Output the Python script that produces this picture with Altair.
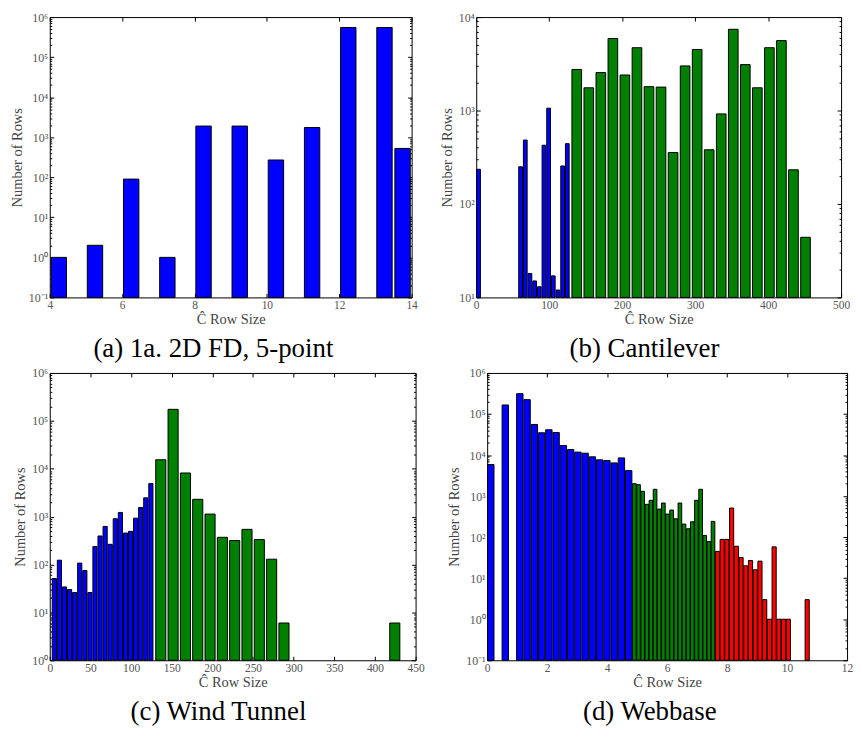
import altair as alt
import pandas as pd

BLUE, GREEN, RED = "#0000ff", "#008000", "#ff0000"

# ---------------- data (counts per histogram bin) ----------------
# (a) 1a. 2D FD, 5-point : one histogram of 20 bins
A_BIN_START, A_BIN_WIDTH = 4.0, 0.5
A_COUNTS = [1, 0, 2, 0, 90, 0, 1, 0, 1900, 0, 1900, 0, 270, 0, 1750, 0, 550000, 0, 550000, 525]

# (b) Cantilever
B_BLUE_START, B_BLUE_WIDTH = 0.0, 6.4
B_BLUE_COUNTS = [235, 0, 0, 0, 0, 0, 0, 0, 0, 250, 483, 18, 15, 13, 425, 1060, 17, 12, 255, 442]
B_GREEN_START, B_GREEN_WIDTH = 129.5, 16.5
B_GREEN_COUNTS = [2750, 1750, 2550, 5900, 2400, 4700, 1800, 1780, 355, 3000,
                  4500, 380, 920, 7400, 3100, 1750, 4700, 5600, 232, 44]

# (c) Wind Tunnel
C_BLUE_START, C_BLUE_WIDTH = 2.5, 6.25
C_BLUE_COUNTS = [51, 123, 34, 30, 26, 107, 75, 26, 237, 394,
                 625, 264, 904, 1222, 454, 492, 930, 1550, 2465, 4890]
C_GREEN_START, C_GREEN_WIDTH = 129.0, 15.15
C_GREEN_COUNTS = [15400, 174000, 8150, 2300, 1130, 370, 316, 542, 331, 129,
                  6, 0, 0, 0, 0, 0, 0, 0, 0, 6]

# (d) Webbase
D_BLUE_START, D_BLUE_WIDTH = 0.0, 0.242
D_BLUE_COUNTS = [5860, 0, 166000, 0, 313000, 224000, 55700, 34900, 41300, 35500,
                 17100, 13600, 11800, 11100, 9040, 7640, 7340, 6440, 8530, 4180]
D_GREEN_START, D_GREEN_WIDTH = 4.84, 0.138
D_GREEN_COUNTS = [2010, 1900, 1310, 630, 790, 1466, 483, 678, 365, 457,
                  280, 678, 208, 160, 237, 790, 1466, 110, 78, 242]
D_RED_START, D_RED_WIDTH = 7.6, 0.1575
D_RED_COUNTS = [45, 88, 88, 512, 60, 32, 20, 27, 16, 26,
                3, 1, 58, 1, 1, 1, 0, 0, 0, 3]

# tick values / labels
A_X_TICKS = [4, 6, 8, 10, 12, 14]
B_X_TICKS = [0, 100, 200, 300, 400, 500]
C_X_TICKS = [0, 50, 100, 150, 200, 250, 300, 350, 400, 450]
D_X_TICKS = [0, 2, 4, 6, 8, 10, 12]

SUP = {-1: "\u207b\u00b9", 0: "\u2070", 1: "\u00b9", 2: "\u00b2", 3: "\u00b3",
       4: "\u2074", 5: "\u2075", 6: "\u2076"}
A_Y_EXP = [-1, 0, 1, 2, 3, 4, 5, 6]
B_Y_EXP = [1, 2, 3, 4]
C_Y_EXP = [0, 1, 2, 3, 4, 5, 6]
D_Y_EXP = [-1, 0, 1, 2, 3, 4, 5, 6]

SERIF = "Liberation Serif"


def panel(series, rw, x_ticks, y_exp, caption, w, h):
    rows = []
    for color, start, width, counts in series:
        for i, c in enumerate(counts):
            if c > 0:
                left = start + (i + (1 - rw) / 2) * width
                rows.append({"x": left, "x2": left + rw * width, "n": c, "c": color})
    df = pd.DataFrame(rows)

    y_ticks = [10.0 ** e for e in y_exp]
    xdom = [x_ticks[0], x_ticks[-1]]
    ydom = [y_ticks[0], y_ticks[-1]]
    minor = [m * 10.0 ** k for k in range(y_exp[0], y_exp[-1]) for m in range(2, 10)]

    expr = ""
    for e in y_exp:
        expr += f"round(log(datum.value)/LN10) == {e} ? '10{SUP[e]}' : "
    expr += "''"

    xs = alt.Scale(domain=xdom, nice=False, zero=False)
    ys = alt.Scale(type="log", domain=ydom, nice=False)

    def enc(xaxis, yaxis):
        return dict(
            x=alt.X("x:Q", scale=xs, axis=xaxis),
            x2=alt.X2("x2:Q"),
            y=alt.Y("n:Q", scale=ys, axis=yaxis),
            y2=alt.Y2Datum(ydom[0]),
        )

    main_x = alt.Axis(orient="bottom", values=x_ticks, format="d", offset=-4, tickSize=4,
                      domain=False, grid=False, labelFlush=False, labelOverlap=False,
                      labelPadding=2, labelFontSize=11.5,
                      title="\u0108 Row Size", titlePadding=2)
    main_y = alt.Axis(orient="left", values=y_ticks, labelExpr=expr, offset=-4, tickSize=4,
                      domain=False, grid=False, labelFlush=False, labelOverlap=False,
                      labelPadding=2, labelFontSize=12,
                      title="Number of Rows", titlePadding=4)
    top_x = alt.Axis(orient="top", values=x_ticks, offset=-4, tickSize=4, labels=False,
                     domain=False, grid=False, title=None)
    right_y = alt.Axis(orient="right", values=y_ticks, offset=-4, tickSize=4, labels=False,
                       domain=False, grid=False, title=None)
    left_minor = alt.Axis(orient="left", values=minor, offset=-2, tickSize=2, labels=False,
                          domain=False, grid=False, title=None)
    right_minor = alt.Axis(orient="right", values=minor, offset=-2, tickSize=2, labels=False,
                           domain=False, grid=False, title=None)

    base = alt.Chart(df)
    bars = base.mark_bar(stroke="black", strokeWidth=1).encode(
        color=alt.Color("c:N", scale=None), **enc(main_x, main_y))
    g1 = base.mark_bar(opacity=0).encode(**enc(top_x, right_y))
    g2 = base.mark_bar(opacity=0).encode(**enc(None, left_minor))
    g3 = base.mark_bar(opacity=0).encode(**enc(None, right_minor))

    return alt.layer(bars, g1, g2, g3).resolve_axis(x="independent", y="independent").properties(
        width=w, height=h,
        title=alt.TitleParams(caption, orient="bottom", frame="bounds", anchor="middle",
                              offset=10, font=SERIF, fontSize=27, fontWeight="normal",
                              color="black"),
    )


pa = panel([(BLUE, A_BIN_START, A_BIN_WIDTH, A_COUNTS)], 0.85, A_X_TICKS, A_Y_EXP,
           "(a) 1a. 2D FD, 5-point", 364, 282)
pb = panel([(BLUE, B_BLUE_START, B_BLUE_WIDTH, B_BLUE_COUNTS),
            (GREEN, B_GREEN_START, B_GREEN_WIDTH, B_GREEN_COUNTS)], 0.8, B_X_TICKS, B_Y_EXP,
           "(b) Cantilever", 367, 282)
pc = panel([(BLUE, C_BLUE_START, C_BLUE_WIDTH, C_BLUE_COUNTS),
            (GREEN, C_GREEN_START, C_GREEN_WIDTH, C_GREEN_COUNTS)], 0.82, C_X_TICKS, C_Y_EXP,
           "(c) Wind Tunnel", 368, 289)
pd_ = panel([(BLUE, D_BLUE_START, D_BLUE_WIDTH, D_BLUE_COUNTS),
             (GREEN, D_GREEN_START, D_GREEN_WIDTH, D_GREEN_COUNTS),
             (RED, D_RED_START, D_RED_WIDTH, D_RED_COUNTS)], 0.88, D_X_TICKS, D_Y_EXP,
            "(d) Webbase", 362, 289)

row1 = alt.hconcat(pa, pb, spacing=20)
row2 = alt.hconcat(pc, pd_, spacing=20)

chart = alt.vconcat(row1, row2, spacing=3).properties(
    padding={"left": 0, "top": 0, "right": 0, "bottom": 0},
    background="white",
).configure_view(
    stroke="black", strokeWidth=1
).configure_axis(
    labelFont=SERIF, labelFontSize=11.5, labelColor="#555555",
    titleFont=SERIF, titleFontSize=14.5, titleColor="#444444", titleFontWeight="normal",
    tickColor="black", tickWidth=1,
)

chart.save("out.html", embed_options={"renderer": "svg", "actions": False})
